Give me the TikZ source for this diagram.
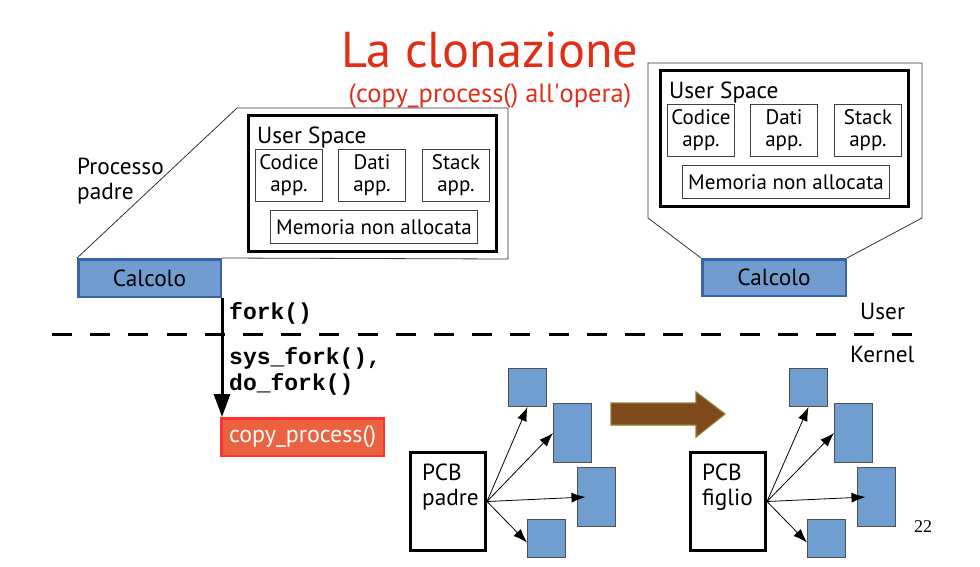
\documentclass[tikz,border=0pt]{standalone}
\usepackage{fontspec}
\setmainfont{PT Sans}
\setmonofont{Liberation Mono}
\newfontfamily\pagefont{Liberation Serif}
\usetikzlibrary{arrows.meta,positioning}

\definecolor{titolorosso}{RGB}{226,46,22}
\definecolor{calcfill}{RGB}{112,156,208}
\definecolor{calcbordo}{RGB}{58,98,168}
\definecolor{copyfill}{RGB}{234,98,64}
\definecolor{copybordo}{RGB}{255,50,50}
\definecolor{bloccofill}{RGB}{112,158,208}
\definecolor{bloccobordo}{RGB}{80,80,80}
\definecolor{frecciafill}{RGB}{126,74,28}
\definecolor{frecciabordo}{RGB}{140,125,50}

\tikzset{
  calcbox/.style={draw=calcbordo, fill=calcfill, line width=2.5pt, anchor=north west, inner sep=0pt,
    minimum width=142.5pt, minimum height=37.5pt, font=\fontsize{23.3}{26}\selectfont},
  spazio/.style={draw, line width=3pt, anchor=north west, inner sep=0pt, minimum width=248pt, minimum height=136pt},
  segm/.style={draw=black!75, line width=1pt, inner sep=0pt, minimum width=67pt, minimum height=52pt,
    align=center, font=\fontsize{21}{22}\selectfont},
  memnode/.style={segm, minimum width=207pt, minimum height=33pt},
  pcbbox/.style={draw, line width=3pt, anchor=north west, inner sep=0pt, minimum width=75pt, minimum height=98pt},
  blocco/.style={draw=bloccobordo, fill=bloccofill, line width=1pt, anchor=north west, inner sep=0pt, minimum width=38pt},
  ptr/.style={-{Latex[length=14pt,width=10pt]}, line width=0.8pt},
  codice/.style={font=\fontsize{23}{26}\selectfont\ttfamily\bfseries, anchor=west, inner sep=0pt, align=left},
  testo/.style={font=\fontsize{23.3}{25}\selectfont, inner sep=0pt, align=left}
}

\begin{document}
\begin{tikzpicture}[x=1pt,y=-1pt]
    \useasboundingbox (0,0) rectangle (980,566);

    % titolo
    \node[anchor=base, text=titolorosso, font=\fontsize{50.4}{52}\selectfont] (titolo) at (490,67) {La clonazione};
    \node[anchor=base, text=titolorosso, font=\fontsize{26.5}{28}\selectfont] (sottotitolo) at (490,102) {(copy\_process() all\textquotesingle opera)};

    % processo padre
    \node[calcbox] (calcp) at (77,258) {Calcolo};
    \node[testo, anchor=north west] (procp) at (77,158) {Processo\\padre};
    \coordinate (pA) at (237,108);
    \coordinate (pB) at (508,108);
    \coordinate (pC) at (508,259);
    \draw[line width=0.8pt, black!80] (calcp.north west) -- (pA) -- (pB) -- (pC) -- (calcp.north east);
    \node[spazio] (spp) at (247,114) {};
    \node[testo, anchor=base west] (usp) at ([shift={(10,29)}]spp.north west) {User Space};
    \node[segm, below right=35pt and 8pt of spp.north west] (codp) {Codice\\app.};
    \node[segm, below right=35pt and 91pt of spp.north west] (datip) {Dati\\app.};
    \node[segm, below right=35pt and 175pt of spp.north west] (stackp) {Stack\\app.};
    \node[memnode, below right=96pt and 23pt of spp.north west] (memp) {Memoria non allocata};

    % processo figlio
    \node[calcbox, minimum width=143.5pt, minimum height=36.5pt] (calcf) at (701,258) {Calcolo};
    \coordinate (fA) at (648,218);
    \coordinate (fB) at (648,63);
    \coordinate (fC) at (922,63);
    \coordinate (fD) at (922,218);
    \draw[line width=0.8pt, black!80] (calcf.north west) -- (fA) -- (fB) -- (fC) -- (fD) -- (calcf.north east);
    \node[spazio] (spf) at (659,69) {};
    \node[testo, anchor=base west] (usf) at ([shift={(10,29)}]spf.north west) {User Space};
    \node[segm, below right=35pt and 8pt of spf.north west] (codf) {Codice\\app.};
    \node[segm, below right=35pt and 91pt of spf.north west] (datif) {Dati\\app.};
    \node[segm, below right=35pt and 175pt of spf.north west] (stackf) {Stack\\app.};
    \node[memnode, below right=96pt and 23pt of spf.north west] (memf) {Memoria non allocata};

    % separazione user / kernel
    \coordinate (dA) at (52,334);
    \coordinate (dB) at (913,334);
    \draw[line width=3pt, dash pattern=on 20pt off 18.2pt] (dA) -- (dB);
    \node[testo, anchor=base west] (user) at (860,319) {User};
    \node[testo, anchor=base west] (kernel) at (850,362) {Kernel};

    % chiamata fork
    \node[draw=copybordo, fill=copyfill, line width=2.5pt, anchor=north west, inner sep=0pt,
      minimum width=162.5pt, minimum height=37.5pt, text=white, font=\fontsize{24}{26}\selectfont] (copy) at (220,417) {copy\_process()};
    \draw[line width=3pt, -{Triangle[length=23pt,width=16pt]}] (calcp.south east) -- (calcp.south east |- copy.north);
    \node[codice] (forkt) at (229,313) {fork()};
    \node[codice] (sysfork) at (229,371) {sys\_fork(),\\do\_fork()};

    % PCB padre
    \node[pcbbox] (pcbp) at (409,451) {};
    \node[testo, anchor=north west] (pcbpt) at (422,464) {PCB\\padre};
    \node[blocco, minimum height=38pt] (bp1) at (508,368) {};
    \node[blocco, minimum height=59pt] (bp2) at (553,403) {};
    \node[blocco, minimum height=59pt] (bp3) at (577,467) {};
    \node[blocco, minimum height=38pt] (bp4) at (527,519) {};
    \draw[ptr] (pcbp.east) -- (bp1.south);
    \draw[ptr] (pcbp.east) -- (bp2.west);
    \draw[ptr] (pcbp.east) -- ([xshift=-11pt]bp3.center);
    \draw[ptr] (pcbp.east) -- ([yshift=-4pt]bp4.west);

    % freccia
    \draw[fill=frecciafill, draw=frecciabordo, line width=1.2pt] (611,403) -- (696,403) -- (696,392) -- (725,414) -- (696,437) -- (696,425) -- (611,425) -- cycle;

    % PCB figlio
    \node[pcbbox] (pcbf) at (689,451) {};
    \node[testo, anchor=north west] (pcbft) at (702,464) {PCB\\figlio};
    \node[blocco, minimum height=38pt] (bf1) at (789,368) {};
    \node[blocco, minimum height=59pt] (bf2) at (834,403) {};
    \node[blocco, minimum height=59pt] (bf3) at (857,467) {};
    \node[blocco, minimum height=38pt] (bf4) at (807,519) {};
    \draw[ptr] (pcbf.east) -- (bf1.south);
    \draw[ptr] (pcbf.east) -- (bf2.west);
    \draw[ptr] (pcbf.east) -- ([xshift=-11pt]bf3.center);
    \draw[ptr] (pcbf.east) -- ([yshift=-4pt]bf4.west);

    % numero pagina
    \node[anchor=base west, inner sep=0pt, font=\pagefont\fontsize{18}{20}\selectfont] (pagina) at (914,532) {22};
\end{tikzpicture}
\end{document}
